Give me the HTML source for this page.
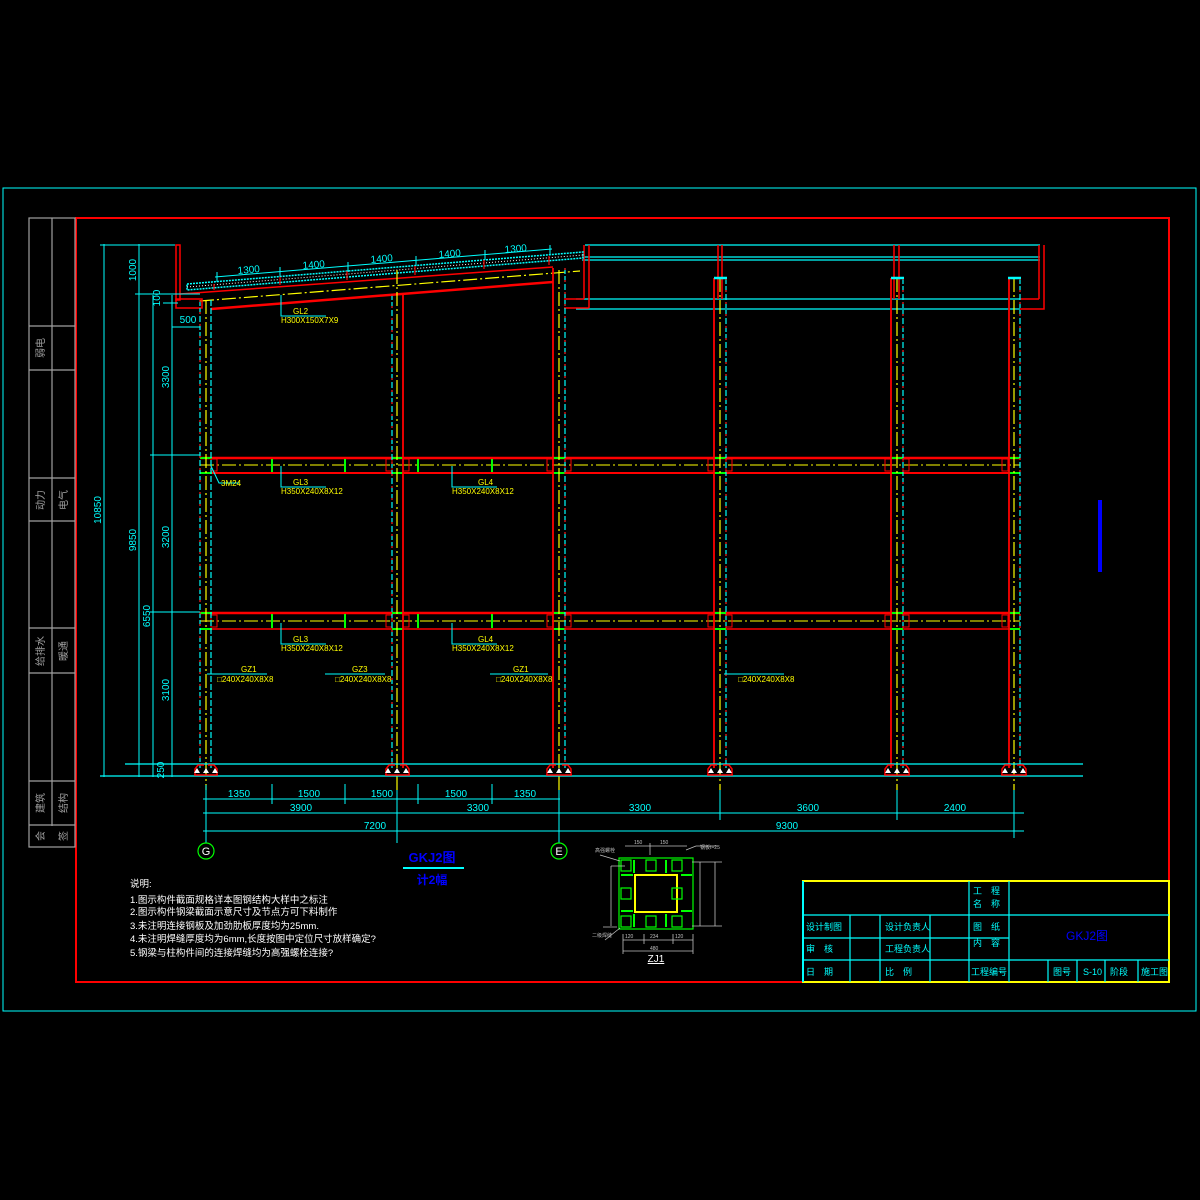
<!DOCTYPE html>
<html><head><meta charset="utf-8"><style>
html,body{margin:0;padding:0;background:#000;}
svg{display:block;}
text{font-family:"Liberation Sans","Noto Sans CJK SC",sans-serif;}
</style></head><body>
<svg width="1200" height="1200" viewBox="0 0 1200 1200" xmlns="http://www.w3.org/2000/svg">
<rect width="1200" height="1200" fill="#000"/>
<!-- frames -->
<rect x="3" y="188" width="1193" height="823" fill="none" stroke="#00ffff" stroke-width="1"/>
<rect x="76" y="218" width="1093" height="764" fill="none" stroke="#ff0000" stroke-width="2"/>
<!-- left strip -->
<g stroke="#a0a0a0" stroke-width="1.2" fill="none">
<rect x="29" y="218" width="46" height="629"/>
<line x1="52" y1="218" x2="52" y2="826"/>
<line x1="29" y1="326" x2="75" y2="326"/><line x1="29" y1="370" x2="75" y2="370"/>
<line x1="29" y1="478" x2="75" y2="478"/><line x1="29" y1="521" x2="75" y2="521"/>
<line x1="29" y1="628" x2="75" y2="628"/><line x1="29" y1="673" x2="75" y2="673"/>
<line x1="29" y1="781" x2="75" y2="781"/><line x1="29" y1="825" x2="75" y2="825"/>
</g>
<g fill="#a0a0a0" font-size="10">
<text transform="translate(44,348) rotate(-90)" text-anchor="middle">弱电</text>
<text transform="translate(44,500) rotate(-90)" text-anchor="middle">动力</text>
<text transform="translate(67,500) rotate(-90)" text-anchor="middle">电气</text>
<text transform="translate(44,651) rotate(-90)" text-anchor="middle">给排水</text>
<text transform="translate(67,651) rotate(-90)" text-anchor="middle">暖通</text>
<text transform="translate(44,803) rotate(-90)" text-anchor="middle">建筑</text>
<text transform="translate(67,803) rotate(-90)" text-anchor="middle">结构</text>
<text transform="translate(44,836) rotate(-90)" text-anchor="middle">会</text>
<text transform="translate(67,836) rotate(-90)" text-anchor="middle">签</text>
</g>

<!-- right upper box -->
<g fill="none" stroke-width="1.2">
<line x1="585" y1="245" x2="1040" y2="245" stroke="#00ffff"/>
<line x1="582" y1="257" x2="1040" y2="257" stroke="#00ffff"/>
<line x1="582" y1="260" x2="1040" y2="260" stroke="#00ffff"/>
<line x1="576" y1="299" x2="1020" y2="299" stroke="#00ffff"/>
<line x1="576" y1="309" x2="1020" y2="309" stroke="#00ffff"/>
<path d="M584 245V299 M589 245V308 M718 245V299 M722 245V299 M894 245V299 M899 245V299 M1039 245V299 M1044 245V309 H1020 M1020 299H1039 M564 299H584 M564 308H589" stroke="#ff0000" stroke-width="1.5"/>
</g>

<!-- roof -->
<polygon points="187,284 583,252 583,258 187,290" fill="none" stroke="#00ffff" stroke-width="1.5" stroke-dasharray="2 1"/>
<line x1="187" y1="287" x2="583" y2="255" stroke="#ffffff" stroke-width="1" stroke-dasharray="1 2"/>
<line x1="180" y1="294" x2="553" y2="267" stroke="#ff0000" stroke-width="1.5"/>
<line x1="200" y1="301" x2="580" y2="271" stroke="#ffff00" stroke-width="1.2" stroke-dasharray="14 3 2 3"/>
<line x1="211" y1="309" x2="553" y2="282" stroke="#ff0000" stroke-width="2.5"/>
<rect x="176" y="245" width="4" height="55" fill="none" stroke="#ff0000" stroke-width="1.5"/>
<rect x="176" y="299" width="26" height="9" fill="none" stroke="#ff0000" stroke-width="1.5"/>
<g stroke="#ff0000" stroke-width="1.2" fill="none">
<path d="M214 290v-6 M280 285v-9 M347 280v-9 M415 275v-9 M484 269v-9 M549 265v-9"/>
</g>
<!-- roof dims -->
<g stroke="#00ffff" stroke-width="1">
<line x1="215" y1="277" x2="552" y2="249"/>
<path d="M217 272v10 M280 267v10 M348 262v10 M416 256v10 M485 250v10 M550 245v10"/>
</g>
<g fill="#00ffff" font-size="10">
<text x="249" y="273" transform="rotate(-4.7 249 273)" text-anchor="middle">1300</text>
<text x="314" y="268" transform="rotate(-4.7 314 268)" text-anchor="middle">1400</text>
<text x="382" y="262" transform="rotate(-4.7 382 262)" text-anchor="middle">1400</text>
<text x="450" y="257" transform="rotate(-4.7 450 257)" text-anchor="middle">1400</text>
<text x="516" y="252" transform="rotate(-4.7 516 252)" text-anchor="middle">1300</text>
</g>

<!-- beams -->
<g>
<line x1="200" y1="458" x2="1020" y2="458" stroke="#ff0000" stroke-width="2.5"/>
<line x1="200" y1="473" x2="1020" y2="473" stroke="#ff0000" stroke-width="2"/>
<line x1="200" y1="465" x2="1020" y2="465" stroke="#ffff00" stroke-width="1" stroke-dasharray="14 3 2 3"/>
<line x1="200" y1="613" x2="1020" y2="613" stroke="#ff0000" stroke-width="2.5"/>
<line x1="200" y1="629" x2="1020" y2="629" stroke="#ff0000" stroke-width="1.5"/>
<line x1="200" y1="621" x2="1020" y2="621" stroke="#ffff00" stroke-width="1" stroke-dasharray="14 3 2 3"/>
</g>
<!-- green beam ties -->
<g stroke="#00ff00" stroke-width="2">
<path d="M272 459v13 M345 459v13 M418 459v13 M492 459v13 M272 614v14 M345 614v14 M418 614v14 M492 614v14"/>
<path d="M200 458h12 M200 473h12 M392 458h11 M392 473h11 M553 458h12 M553 473h12 M714 458h12 M714 473h12 M891 458h12 M891 473h12 M1008 458h12 M1008 473h12"/>
<path d="M200 613h12 M200 629h12 M392 613h11 M392 629h11 M553 613h12 M553 629h12 M714 613h12 M714 629h12 M891 613h12 M891 629h12 M1008 613h12 M1008 629h12"/>
</g>
<!-- bolt plates -->
<g fill="none" stroke="#ff0000" stroke-width="1">
<rect x="211" y="459" width="6" height="12"/><rect x="386" y="459" width="6" height="12"/><rect x="403" y="459" width="6" height="12"/>
<rect x="547" y="459" width="6" height="12"/><rect x="565" y="459" width="6" height="12"/><rect x="708" y="459" width="6" height="12"/><rect x="726" y="459" width="6" height="12"/>
<rect x="885" y="459" width="6" height="12"/><rect x="903" y="459" width="6" height="12"/><rect x="1002" y="459" width="6" height="12"/>
<rect x="211" y="615" width="6" height="12"/><rect x="386" y="615" width="6" height="12"/><rect x="403" y="615" width="6" height="12"/>
<rect x="547" y="615" width="6" height="12"/><rect x="565" y="615" width="6" height="12"/><rect x="708" y="615" width="6" height="12"/><rect x="726" y="615" width="6" height="12"/>
<rect x="885" y="615" width="6" height="12"/><rect x="903" y="615" width="6" height="12"/><rect x="1002" y="615" width="6" height="12"/>
</g>

<!-- columns -->
<g stroke-width="1.2" fill="none">
<!-- G -->
<line x1="200" y1="300" x2="200" y2="768" stroke="#00ffff" stroke-dasharray="6 2"/>
<line x1="200" y1="300" x2="200" y2="768" stroke="#ff0000" stroke-dasharray="2 10"/>
<line x1="211" y1="300" x2="211" y2="768" stroke="#00ffff" stroke-dasharray="6 2"/>
<line x1="206" y1="300" x2="206" y2="790" stroke="#ffff00" stroke-dasharray="14 3 2 3"/>
<!-- col2 -->
<line x1="392" y1="294" x2="392" y2="768" stroke="#00ffff" stroke-dasharray="6 2"/>
<line x1="392" y1="294" x2="392" y2="768" stroke="#ff0000" stroke-dasharray="2 10"/>
<line x1="403" y1="294" x2="403" y2="768" stroke="#ff0000" stroke-width="1.8"/>
<line x1="397" y1="270" x2="397" y2="790" stroke="#ffff00" stroke-dasharray="14 3 2 3"/>
<!-- E -->
<line x1="553" y1="268" x2="553" y2="768" stroke="#ff0000" stroke-width="1.8"/>
<line x1="565" y1="268" x2="565" y2="768" stroke="#00ffff" stroke-dasharray="6 2"/>
<line x1="565" y1="268" x2="565" y2="768" stroke="#ff0000" stroke-dasharray="2 10"/>
<line x1="559" y1="270" x2="559" y2="790" stroke="#ffff00" stroke-dasharray="14 3 2 3"/>
<!-- 720 -->
<line x1="714" y1="278" x2="714" y2="768" stroke="#ff0000" stroke-width="1.8"/>
<line x1="726" y1="278" x2="726" y2="768" stroke="#00ffff" stroke-dasharray="6 2"/>
<line x1="726" y1="278" x2="726" y2="768" stroke="#ff0000" stroke-dasharray="2 10"/>
<line x1="720" y1="278" x2="720" y2="790" stroke="#ffff00" stroke-dasharray="14 3 2 3"/>
<line x1="714" y1="278" x2="727" y2="278" stroke="#00ffff" stroke-width="2.5"/>
<!-- 897 -->
<line x1="891" y1="278" x2="891" y2="768" stroke="#ff0000" stroke-width="1.8"/>
<line x1="903" y1="278" x2="903" y2="768" stroke="#00ffff" stroke-dasharray="6 2"/>
<line x1="903" y1="278" x2="903" y2="768" stroke="#ff0000" stroke-dasharray="2 10"/>
<line x1="897" y1="278" x2="897" y2="790" stroke="#ffff00" stroke-dasharray="14 3 2 3"/>
<line x1="891" y1="278" x2="904" y2="278" stroke="#00ffff" stroke-width="2.5"/>
<!-- 1014 -->
<line x1="1009" y1="278" x2="1009" y2="768" stroke="#ff0000" stroke-width="1.8"/>
<line x1="1020" y1="278" x2="1020" y2="768" stroke="#00ffff" stroke-dasharray="6 2"/>
<line x1="1020" y1="278" x2="1020" y2="768" stroke="#ff0000" stroke-dasharray="2 10"/>
<line x1="1014" y1="278" x2="1014" y2="790" stroke="#ffff00" stroke-dasharray="14 3 2 3"/>
<line x1="1008" y1="278" x2="1021" y2="278" stroke="#00ffff" stroke-width="2.5"/>
</g>

<!-- ground lines -->
<line x1="125" y1="764" x2="1083" y2="764" stroke="#00ffff" stroke-width="1.2"/>
<line x1="100" y1="776" x2="1083" y2="776" stroke="#00ffff" stroke-width="1.2"/>
<!-- column bases -->
<g stroke="#ff0000" stroke-width="1.5" fill="none">
<path d="M195 775v-6l3-4h6 M217 775v-6l-3-4h-6 M194 775h24"/>
<path d="M386 775v-6l3-4h6 M409 775v-6l-3-4h-6 M385 775h25"/>
<path d="M547 775v-6l3-4h6 M571 775v-6l-3-4h-6 M546 775h26"/>
<path d="M708 775v-6l3-4h6 M732 775v-6l-3-4h-6 M707 775h26"/>
<path d="M885 775v-6l3-4h6 M909 775v-6l-3-4h-6 M884 775h26"/>
<path d="M1002 775v-6l3-4h6 M1026 775v-6l-3-4h-6 M1001 775h26"/>
</g>
<g fill="#ffffff">
<path d="M194 773l3-5 3 5z M203 773l3-5 3 5z M212 773l3-5 3 5z"/>
<path d="M385 773l3-5 3 5z M394 773l3-5 3 5z M403 773l3-5 3 5z"/>
<path d="M547 773l3-5 3 5z M556 773l3-5 3 5z M565 773l3-5 3 5z"/>
<path d="M708 773l3-5 3 5z M717 773l3-5 3 5z M726 773l3-5 3 5z"/>
<path d="M885 773l3-5 3 5z M894 773l3-5 3 5z M903 773l3-5 3 5z"/>
<path d="M1002 773l3-5 3 5z M1011 773l3-5 3 5z M1020 773l3-5 3 5z"/>
</g>

<!-- vertical dims left -->
<g stroke="#00ffff" stroke-width="1">
<line x1="104" y1="244" x2="104" y2="777"/>
<line x1="139" y1="244" x2="139" y2="777"/>
<line x1="153" y1="295" x2="153" y2="777"/>
<line x1="172" y1="295" x2="172" y2="777"/>
<line x1="100" y1="245" x2="175" y2="245"/>
<line x1="135" y1="294" x2="200" y2="294"/>
<line x1="150" y1="455" x2="200" y2="455"/>
<line x1="150" y1="612" x2="200" y2="612"/>
<line x1="150" y1="764" x2="180" y2="764"/>
<line x1="163" y1="303" x2="178" y2="303"/>
<line x1="172" y1="327" x2="200" y2="327"/>
<line x1="172" y1="315" x2="172" y2="327"/>
</g>
<g fill="#00ffff" font-size="10">
<text transform="translate(101,510) rotate(-90)" text-anchor="middle">10850</text>
<text transform="translate(136,540) rotate(-90)" text-anchor="middle">9850</text>
<text transform="translate(150,616) rotate(-90)" text-anchor="middle">6550</text>
<text transform="translate(136,270) rotate(-90)" text-anchor="middle">1000</text>
<text transform="translate(160,298) rotate(-90)" text-anchor="middle">100</text>
<text transform="translate(169,377) rotate(-90)" text-anchor="middle">3300</text>
<text transform="translate(169,537) rotate(-90)" text-anchor="middle">3200</text>
<text transform="translate(169,690) rotate(-90)" text-anchor="middle">3100</text>
<text transform="translate(164,770) rotate(-90)" text-anchor="middle">250</text>
<text x="188" y="323" text-anchor="middle">500</text>
</g>

<!-- bottom dims -->
<g stroke="#00ffff" stroke-width="1">
<line x1="203" y1="799" x2="560" y2="799"/>
<line x1="203" y1="813" x2="1024" y2="813"/>
<line x1="203" y1="831" x2="1024" y2="831"/>
<path d="M206 785v58 M272 784v20 M345 784v20 M418 784v20 M492 784v20 M397 790v53 M559 790v53 M720 790v30 M897 790v30 M1014 790v48"/>
</g>
<g fill="#00ffff" font-size="10" text-anchor="middle">
<text x="239" y="797">1350</text><text x="309" y="797">1500</text><text x="382" y="797">1500</text>
<text x="456" y="797">1500</text><text x="525" y="797">1350</text>
<text x="301" y="811">3900</text><text x="478" y="811">3300</text>
<text x="640" y="811">3300</text><text x="808" y="811">3600</text><text x="955" y="811">2400</text>
<text x="375" y="829">7200</text><text x="787" y="829">9300</text>
</g>
<g fill="none" stroke="#00ff00" stroke-width="1.2">
<circle cx="206" cy="851" r="8"/><circle cx="559" cy="851" r="8"/>
</g>
<g fill="#ffffff" font-size="11" text-anchor="middle">
<text x="206" y="855">G</text><text x="559" y="855">E</text>
</g>

<!-- member labels -->
<g stroke="#00ffff" stroke-width="1" fill="none">
<path d="M281 295v21h45 M281 466v21h45 M452 466v21h45 M281 623v21h45 M452 623v21h45 M211 466l8 17h20"/>
<path d="M207 674h60 M325 674h60 M490 674h58 M724 674h60"/>
</g>
<g fill="#ffff00" font-size="8">
<text x="293" y="314">GL2</text><text x="281" y="323">H300X150X7X9</text>
<text x="293" y="485">GL3</text><text x="281" y="494">H350X240X8X12</text>
<text x="221" y="486">3M24</text>
<text x="478" y="485">GL4</text><text x="452" y="494">H350X240X8X12</text>
<text x="293" y="642">GL3</text><text x="281" y="651">H350X240X8X12</text>
<text x="478" y="642">GL4</text><text x="452" y="651">H350X240X8X12</text>
<text x="241" y="672">GZ1</text><text x="217" y="682">□240X240X8X8</text>
<text x="352" y="672">GZ3</text><text x="335" y="682">□240X240X8X8</text>
<text x="513" y="672">GZ1</text><text x="496" y="682">□240X240X8X8</text>
<text x="738" y="682">□240X240X8X8</text>
</g>

<!-- title -->
<text x="432" y="862" fill="#0000ff" font-size="13" font-weight="bold" text-anchor="middle">GKJ2图</text>
<line x1="403" y1="868" x2="464" y2="868" stroke="#00ffff" stroke-width="2"/>
<text x="432" y="884" fill="#0000ff" font-size="12" font-weight="bold" text-anchor="middle">计2幅</text>
<rect x="1098" y="500" width="4" height="72" fill="#0000ff"/>

<!-- notes -->
<g fill="#ffffff" font-size="9.5">
<text x="130" y="887">说明:</text>
<text x="130" y="903">1.图示构件截面规格详本图钢结构大样中之标注</text>
<text x="130" y="915">2.图示构件钢梁截面示意尺寸及节点方可下料制作</text>
<text x="130" y="929">3.未注明连接钢板及加劲肋板厚度均为25mm.</text>
<text x="130" y="942">4.未注明焊缝厚度均为6mm,长度按图中定位尺寸放样确定?</text>
<text x="130" y="956">5.钢梁与柱构件间的连接焊缝均为高强螺栓连接?</text>
</g>

<!-- ZJ1 detail -->
<g fill="none" stroke-width="1.2">
<rect x="619" y="858" width="74" height="71" stroke="#00ff00"/>
<rect x="635" y="875" width="42" height="37" stroke="#ffff00" stroke-width="2"/>
<g stroke="#00ff00">
<rect x="621" y="860" width="10" height="11"/><rect x="646" y="860" width="10" height="11"/><rect x="672" y="860" width="10" height="11"/>
<rect x="621" y="888" width="10" height="11"/><rect x="672" y="888" width="10" height="11"/>
<rect x="621" y="916" width="10" height="11"/><rect x="646" y="916" width="10" height="11"/><rect x="672" y="916" width="10" height="11"/>
<path d="M634 860v13 M666 860v13 M634 914v13 M666 914v13 M621 875h12 M681 875h11 M621 911h12 M681 911h11" stroke-width="2"/>
</g>
<g stroke="#c0c0c0" stroke-width="0.8">
<path d="M625 846h62 M650 843v12 M611 866h14 M611 866v60 M603 927h14 M692 862h30 M692 926h30 M700 862v64 M715 862v64 M623 940h70 M623 951h70 M623 934v20 M693 934v20 M644 934v10 M673 934v10 M600 855l20 6 M605 940l15-12 M686 850l10-4h20"/>
</g>
</g>
<g fill="#c0c0c0" font-size="5">
<text x="634" y="844">150</text><text x="660" y="844">150</text><text x="700" y="849">钢板t=25</text>
<text x="595" y="852">高强螺栓</text><text x="625" y="938">120</text><text x="650" y="938">234</text><text x="675" y="938">120</text>
<text x="650" y="950">480</text><text x="592" y="937">二级焊缝</text>
</g>
<text x="656" y="962" fill="#ffffff" font-size="10" text-anchor="middle" text-decoration="underline">ZJ1</text>

<!-- title block -->
<g fill="none">
<rect x="803" y="881" width="366" height="101" stroke="#ffff00" stroke-width="2"/>
<g stroke="#00ffff" stroke-width="1.2">
<line x1="803" y1="915" x2="1169" y2="915"/>
<line x1="803" y1="938" x2="1009" y2="938"/>
<line x1="803" y1="960" x2="1169" y2="960"/>
<line x1="803" y1="881" x2="803" y2="982" stroke-width="2"/>
<line x1="969" y1="881" x2="969" y2="982"/>
<line x1="1009" y1="881" x2="1009" y2="982"/>
<line x1="850" y1="915" x2="850" y2="982"/>
<line x1="880" y1="915" x2="880" y2="982"/>
<line x1="930" y1="915" x2="930" y2="982"/>
<line x1="1048" y1="960" x2="1048" y2="982"/>
<line x1="1077" y1="960" x2="1077" y2="982"/>
<line x1="1105" y1="960" x2="1105" y2="982"/>
<line x1="1138" y1="960" x2="1138" y2="982"/>
</g>
</g>
<g fill="#00ffff" font-size="9">
<text x="806" y="930">设计制图</text><text x="806" y="952">审　核</text><text x="806" y="975">日　期</text>
<text x="885" y="930">设计负责人</text><text x="885" y="952">工程负责人</text><text x="885" y="975">比　例</text>
<text x="973" y="894">工　程</text><text x="973" y="907">名　称</text>
<text x="973" y="930">图　纸</text><text x="973" y="946">内　容</text>
<text x="971" y="975">工程编号</text><text x="1053" y="975">图号</text><text x="1083" y="975">S-10</text>
<text x="1110" y="975">阶段</text><text x="1141" y="975">施工图</text>
</g>
<text x="1087" y="940" fill="#0000ff" font-size="12" text-anchor="middle">GKJ2图</text>
</svg>
</body></html>
